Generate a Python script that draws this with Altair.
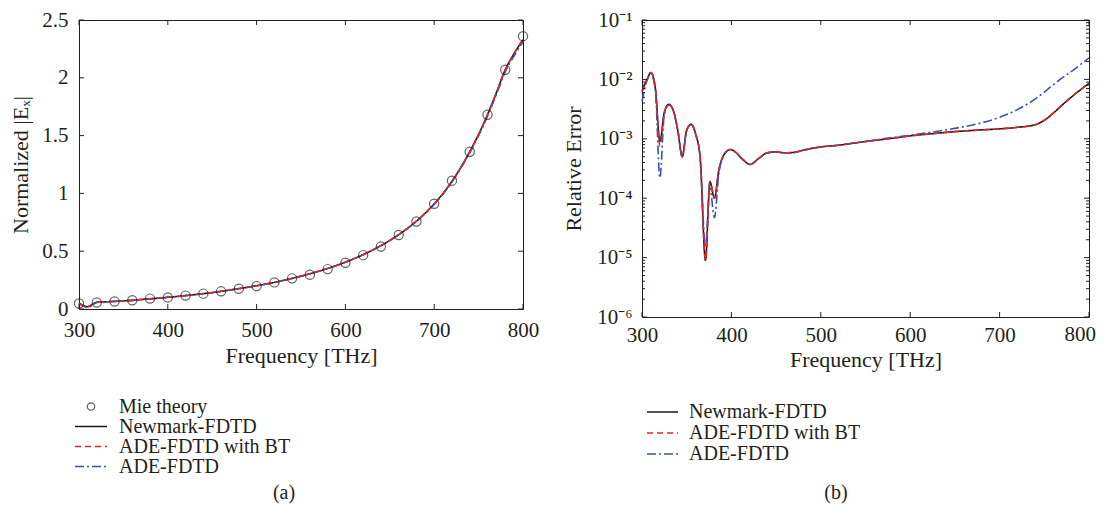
import altair as alt
import pandas as pd

FONT = "Liberation Serif"
INK = "#231f20"

# ---------------- panel (a) data ----------------
mie_freq = [300, 320, 340, 360, 380, 400, 420, 440, 460, 480, 500, 520, 540,
            560, 580, 600, 620, 640, 660, 680, 700, 720, 740, 760, 780, 800]
mie_ex = [0.048, 0.056, 0.065, 0.076, 0.090, 0.100, 0.116, 0.133, 0.153, 0.175,
          0.198, 0.230, 0.265, 0.297, 0.345, 0.400, 0.466, 0.540, 0.640, 0.757,
          0.910, 1.110, 1.360, 1.680, 2.070, 2.360]

freq_a = [300, 305, 310, 315, 320, 330, 340, 350, 360, 370, 380, 390, 400, 410,
          420, 430, 440, 450, 460, 470, 480, 490, 500, 510, 520, 530, 540, 550,
          560, 570, 580, 590, 600, 610, 620, 630, 640, 650, 660, 670, 680, 690,
          700, 710, 720, 730, 740, 750, 760, 770, 780, 790, 800]
newmark_a = [0.050, 0.030, 0.020, 0.040, 0.058, 0.062, 0.066, 0.070, 0.075, 0.082,
             0.088, 0.094, 0.101, 0.108, 0.116, 0.124, 0.133, 0.142, 0.153, 0.164,
             0.176, 0.188, 0.201, 0.215, 0.230, 0.247, 0.265, 0.284, 0.305, 0.327,
             0.351, 0.377, 0.405, 0.436, 0.470, 0.507, 0.548, 0.593, 0.643, 0.698,
             0.760, 0.830, 0.910, 1.000, 1.105, 1.225, 1.360, 1.510, 1.680, 1.870,
             2.070, 2.210, 2.330]
bt_a = [0.050, 0.030, 0.020, 0.040, 0.058, 0.062, 0.066, 0.070, 0.075, 0.082,
        0.088, 0.094, 0.101, 0.108, 0.116, 0.124, 0.133, 0.142, 0.153, 0.164,
        0.176, 0.188, 0.201, 0.215, 0.230, 0.247, 0.265, 0.284, 0.305, 0.327,
        0.351, 0.377, 0.405, 0.436, 0.470, 0.507, 0.548, 0.593, 0.643, 0.698,
        0.760, 0.830, 0.910, 1.000, 1.105, 1.225, 1.360, 1.510, 1.680, 1.870,
        2.070, 2.210, 2.330]
ade_a = [0.048, 0.024, 0.013, 0.032, 0.056, 0.062, 0.066, 0.070, 0.075, 0.082,
         0.088, 0.094, 0.101, 0.108, 0.116, 0.124, 0.133, 0.142, 0.153, 0.164,
         0.176, 0.188, 0.201, 0.215, 0.230, 0.247, 0.265, 0.284, 0.305, 0.327,
         0.351, 0.377, 0.405, 0.436, 0.470, 0.507, 0.548, 0.593, 0.643, 0.698,
         0.757, 0.826, 0.905, 0.995, 1.098, 1.218, 1.350, 1.500, 1.668, 1.855,
         2.050, 2.190, 2.310]

# ---------------- panel (b) data ----------------
freq_b = [300, 305, 310, 315, 320, 325, 330, 335, 340, 345, 350, 355, 360, 365,
          371, 376, 381, 386, 392, 399, 405, 412, 421, 430, 440, 450, 460, 470,
          480, 490, 500, 520, 540, 560, 580, 600, 625, 650, 675, 700, 720, 740,
          750, 760, 770, 780, 790, 800]
newmark_b = [6.4e-3, 9.5e-3, 1.3e-2, 7.0e-3, 9.0e-4, 2.8e-3, 3.8e-3, 3.0e-3,
             1.4e-3, 5.0e-4, 1.4e-3, 1.75e-3, 1.2e-3, 5.0e-4, 9.0e-6, 1.9e-4,
             1.0e-4, 3.0e-4, 5.5e-4, 6.6e-4, 5.9e-4, 4.6e-4, 3.7e-4, 4.6e-4,
             5.8e-4, 6.0e-4, 5.8e-4, 5.9e-4, 6.4e-4, 6.9e-4, 7.3e-4, 7.8e-4,
             8.6e-4, 9.4e-4, 1.02e-3, 1.12e-3, 1.22e-3, 1.32e-3, 1.40e-3, 1.47e-3,
             1.56e-3, 1.73e-3, 2.05e-3, 2.7e-3, 3.7e-3, 5.0e-3, 6.6e-3, 8.6e-3]
bt_b = [6.2e-3, 9.5e-3, 1.3e-2, 7.0e-3, 7.6e-4, 2.8e-3, 3.8e-3, 3.0e-3,
        1.4e-3, 5.0e-4, 1.4e-3, 1.75e-3, 1.2e-3, 5.0e-4, 9.0e-6, 1.9e-4,
        1.0e-4, 3.0e-4, 5.5e-4, 6.6e-4, 5.9e-4, 4.6e-4, 3.7e-4, 4.6e-4,
        5.8e-4, 6.0e-4, 5.8e-4, 5.9e-4, 6.4e-4, 6.9e-4, 7.3e-4, 7.8e-4,
        8.6e-4, 9.4e-4, 1.02e-3, 1.12e-3, 1.22e-3, 1.32e-3, 1.40e-3, 1.47e-3,
        1.56e-3, 1.73e-3, 2.05e-3, 2.7e-3, 3.7e-3, 5.0e-3, 6.6e-3, 8.6e-3]
ade_b = [4.3e-3, 9.0e-3, 1.25e-2, 6.5e-3, 2.2e-4, 2.6e-3, 3.7e-3, 3.0e-3,
         1.4e-3, 5.0e-4, 1.4e-3, 1.75e-3, 1.2e-3, 4.8e-4, 1.5e-5, 1.5e-4,
         4.7e-5, 2.6e-4, 5.4e-4, 6.6e-4, 5.9e-4, 4.6e-4, 3.7e-4, 4.6e-4,
         5.8e-4, 6.0e-4, 5.8e-4, 5.9e-4, 6.4e-4, 6.9e-4, 7.3e-4, 7.8e-4,
         8.6e-4, 9.5e-4, 1.05e-3, 1.15e-3, 1.30e-3, 1.50e-3, 1.78e-3, 2.30e-3,
         3.1e-3, 4.7e-3, 6.1e-3, 8.1e-3, 1.06e-2, 1.35e-2, 1.75e-2, 2.3e-2]

# ---------------- ticks / labels ----------------
x_ticks = [300, 400, 500, 600, 700, 800]
x_labels_b = [300, 400, 500, 600, 700]
x_last_b = [800]
y_ticks_a = [0, 0.5, 1, 1.5, 2, 2.5]
y_major_b = [1e-6, 1e-5, 1e-4, 1e-3, 1e-2, 1e-1]
y_minor_b = [k * m for m in [1e-6, 1e-5, 1e-4, 1e-3, 1e-2] for k in range(2, 10)]

series_names = ["Newmark-FDTD", "ADE-FDTD with BT", "ADE-FDTD"]
series_colors = ["#1a1a1a", "#ee2024", "#3b53ab"]
series_dash = [[1, 0], [6, 4], [9, 3, 2, 3]]
mie_name = "Mie theory"

LABEL_FS = 21
TITLE_FS = 22
LEGEND_FS = 20

W_A, H_A = 444, 289
W_B, H_B = 447, 297
TICK = 5
MINOR = 3

xs = alt.Scale(domain=[300, 800], nice=False, zero=False)
ys_a = alt.Scale(domain=[0, 2.5], nice=False, zero=False)
ys_b = alt.Scale(type="log", domain=[1e-6, 1e-1], nice=False)

sup = "['⁰','¹','²','³','⁴','⁵','⁶']"

x_axis_a = alt.Axis(title="Frequency [THz]", values=x_ticks, format="d",
                    labelPadding=10, titlePadding=5, labelFlush=False)
x_axis_b = alt.Axis(title="Frequency [THz]", values=x_labels_b, format="d",
                    labelPadding=7, titlePadding=4, labelFlush=False)
y_axis_a = alt.Axis(title="Normalized |Eₓ|", values=y_ticks_a, format="~g",
                    labelPadding=11, titlePadding=9, labelFlush=False)
y_axis_b = alt.Axis(title="Relative Error", values=y_major_b, labelFlush=False,
                    labelExpr="'10⁻' + " + sup + "[-round(log(datum.value) / LN10)]",
                    labelPadding=10, titlePadding=11)


def line_layer(freq, vals, i, ys, xaxis, yaxis):
    df = pd.DataFrame({"freq": freq, "val": vals})
    return alt.Chart(df).mark_line(
        color=series_colors[i], strokeDash=series_dash[i], strokeWidth=1.6,
        interpolate="monotone", clip=False
    ).encode(
        x=alt.X("freq:Q", scale=xs, axis=xaxis),
        y=alt.Y("val:Q", scale=ys, axis=yaxis),
    )


def tick_layers(ys, xaxis, yaxis, W, H, yvals, L):
    xdf = pd.DataFrame({"freq": x_ticks})
    ydf = pd.DataFrame({"val": yvals})
    return [
        alt.Chart(xdf).mark_rule(color=INK, strokeWidth=1).encode(
            x=alt.X("freq:Q", scale=xs, axis=xaxis), y=alt.value(H), y2=alt.value(H - TICK)),
        alt.Chart(xdf).mark_rule(color=INK, strokeWidth=1).encode(
            x=alt.X("freq:Q", scale=xs, axis=xaxis), y=alt.value(0), y2=alt.value(TICK)),
        alt.Chart(ydf).mark_rule(color=INK, strokeWidth=1).encode(
            y=alt.Y("val:Q", scale=ys, axis=yaxis), x=alt.value(0), x2=alt.value(L)),
        alt.Chart(ydf).mark_rule(color=INK, strokeWidth=1).encode(
            y=alt.Y("val:Q", scale=ys, axis=yaxis), x=alt.value(W), x2=alt.value(W - L)),
    ]


# ---------------- panel (a) ----------------
mie_df = pd.DataFrame({"freq": mie_freq, "val": mie_ex})
mie_layer = alt.Chart(mie_df).mark_point(
    shape="circle", filled=False, size=85, color=INK, strokeWidth=1.2, clip=False
).encode(
    x=alt.X("freq:Q", scale=xs, axis=x_axis_a),
    y=alt.Y("val:Q", scale=ys_a, axis=y_axis_a),
)
panel_a = alt.layer(
    line_layer(freq_a, newmark_a, 0, ys_a, x_axis_a, y_axis_a),
    line_layer(freq_a, ade_a, 2, ys_a, x_axis_a, y_axis_a),
    line_layer(freq_a, bt_a, 1, ys_a, x_axis_a, y_axis_a),
    mie_layer,
    *tick_layers(ys_a, x_axis_a, y_axis_a, W_A, H_A, y_ticks_a, TICK),
).properties(width=W_A, height=H_A,
             view=alt.ViewBackground(stroke=INK, strokeWidth=1))

# ---------------- panel (b) ----------------
minor_df = pd.DataFrame({"val": y_minor_b})
last_label = alt.Chart(pd.DataFrame({"freq": x_last_b})).mark_text(
    align="right", baseline="top", dx=7, font=FONT, fontSize=LABEL_FS, color=INK
).encode(
    x=alt.X("freq:Q", scale=xs, axis=x_axis_b),
    y=alt.value(H_B + 7),
    text=alt.Text("freq:Q", format="d"),
)
panel_b = alt.layer(
    line_layer(freq_b, newmark_b, 0, ys_b, x_axis_b, y_axis_b),
    line_layer(freq_b, ade_b, 2, ys_b, x_axis_b, y_axis_b),
    line_layer(freq_b, bt_b, 1, ys_b, x_axis_b, y_axis_b),
    *tick_layers(ys_b, x_axis_b, y_axis_b, W_B, H_B, y_major_b, TICK),
    alt.Chart(minor_df).mark_rule(color=INK, strokeWidth=1).encode(
        y=alt.Y("val:Q", scale=ys_b, axis=y_axis_b), x=alt.value(0), x2=alt.value(MINOR)),
    alt.Chart(minor_df).mark_rule(color=INK, strokeWidth=1).encode(
        y=alt.Y("val:Q", scale=ys_b, axis=y_axis_b), x=alt.value(W_B), x2=alt.value(W_B - MINOR)),
    last_label,
).properties(width=W_B, height=H_B,
             view=alt.ViewBackground(stroke=INK, strokeWidth=1))


# ---------------- legends ----------------
def legend_chart(names, W, H, y0, y1, lx0, lx1, tx, caption, cx, cy, with_mie):
    yscale = alt.Scale(type="point", domain=names, range=[y0, y1], padding=0)
    text = alt.Chart(pd.DataFrame({"name": names})).mark_text(
        align="left", baseline="middle", font=FONT, fontSize=LEGEND_FS, color=INK
    ).encode(x=alt.value(tx), y=alt.Y("name:N", scale=yscale, axis=None), text="name:N")
    rules = alt.Chart(pd.DataFrame({"name": series_names})).mark_rule(strokeWidth=1.6).encode(
        x=alt.value(lx0), x2=alt.value(lx1),
        y=alt.Y("name:N", scale=yscale, axis=None),
        color=alt.Color("name:N", scale=alt.Scale(domain=series_names, range=series_colors), legend=None),
        strokeDash=alt.StrokeDash("name:N", scale=alt.Scale(domain=series_names, range=series_dash), legend=None),
    )
    cap = alt.Chart(pd.DataFrame({"c": [caption]})).mark_text(
        align="center", baseline="middle", font=FONT, fontSize=20, color=INK
    ).encode(x=alt.value(cx), y=alt.value(cy), text="c:N")
    layers = [rules, text, cap]
    if with_mie:
        layers.append(alt.Chart(pd.DataFrame({"name": [mie_name]})).mark_point(
            shape="circle", filled=False, size=55, color=INK, strokeWidth=1.2
        ).encode(x=alt.value((lx0 + lx1) / 2), y=alt.Y("name:N", scale=yscale, axis=None)))
    return alt.layer(*layers).properties(
        width=W, height=H, view=alt.ViewBackground(stroke="transparent"))


legend_a = legend_chart([mie_name] + series_names, W_A, 178, 89.5, 149.5, -4, 28, 40,
                        "(a)", 205, 176, True)
legend_b = legend_chart(series_names, W_B, 178, 95, 137, 5, 36, 47,
                        "(b)", 194, 176, False)

chart = alt.concat(
    panel_a, panel_b, legend_a, legend_b,
    columns=2, spacing={"row": 0, "column": 119}, bounds="flush"
).properties(
    padding={"left": 1, "top": 0, "right": 0, "bottom": 0}
).configure_view(
    stroke="transparent"
).configure_axis(
    labelFont=FONT, titleFont=FONT, labelFontSize=LABEL_FS, titleFontSize=TITLE_FS,
    labelColor=INK, titleColor=INK, titleFontWeight="normal",
    grid=False, ticks=False, tickSize=0, domain=False
)

chart.save("out.html", embed_options={"renderer": "svg", "actions": False})
